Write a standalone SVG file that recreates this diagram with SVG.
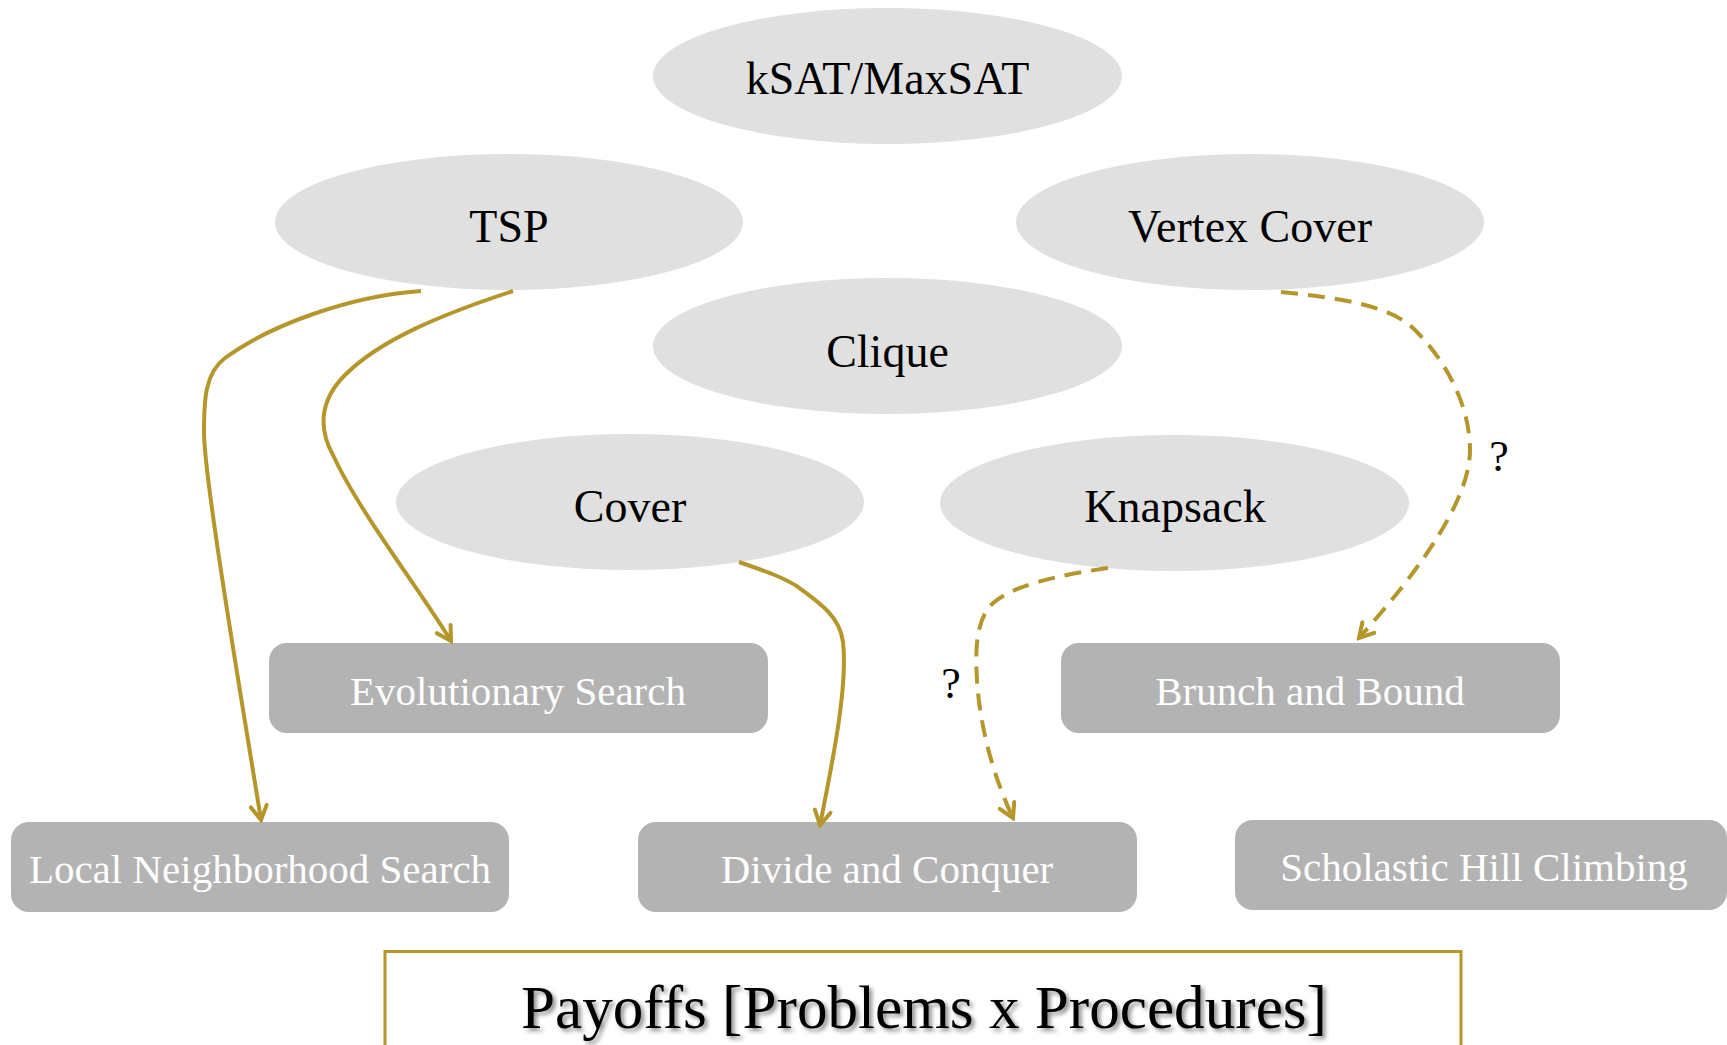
<svg xmlns="http://www.w3.org/2000/svg" width="1727" height="1045" viewBox="0 0 1727 1045">
  <style>
    .problem ellipse { fill: #e0e0e0; }
    .problem text { font-family: "Liberation Serif", "DejaVu Serif", serif; font-size: 46px; fill: #000; text-anchor: middle; }
    .procedure rect { fill: #b3b3b3; }
    .procedure text { font-family: "Liberation Serif", "DejaVu Serif", serif; font-size: 41px; fill: #ffffff; text-anchor: middle; }
    .link { fill: none; stroke: #b4962b; stroke-width: 4; marker-end: url(#arrow); }
    .dashed { stroke-dasharray: 17 10; }
    .qmark { font-family: "Liberation Serif", "DejaVu Serif", serif; font-size: 44px; fill: #000; text-anchor: middle; }
    .title-frame { fill: #fff; stroke: #b4962b; stroke-width: 3; }
    .title { font-family: "Liberation Serif", "DejaVu Serif", serif; font-size: 62px; fill: #000; text-anchor: middle; }
  </style>
  <defs>
    <marker id="arrow" markerUnits="userSpaceOnUse" viewBox="0 0 20 20" refX="17" refY="10" markerWidth="20" markerHeight="20" orient="auto">
      <path d="M3,2 L17,10 L3,18" fill="none" stroke="#b4962b" stroke-width="4" stroke-linecap="round" stroke-linejoin="miter"/>
    </marker>
    <filter id="shadow" x="-5%" y="-30%" width="110%" height="160%">
      <feDropShadow dx="3" dy="3" stdDeviation="2" flood-color="#000" flood-opacity="0.45"/>
    </filter>
  </defs>

  <rect width="1727" height="1045" fill="#ffffff"/>

  <!-- problems -->
  <g id="ksat" class="problem">
    <ellipse cx="887.5" cy="76" rx="234.5" ry="68"/>
    <text x="887.5" y="94">kSAT/MaxSAT</text>
  </g>
  <g id="tsp" class="problem">
    <ellipse cx="509" cy="222" rx="234" ry="68"/>
    <text x="509" y="242">TSP</text>
  </g>
  <g id="vertex-cover" class="problem">
    <ellipse cx="1250" cy="222" rx="234" ry="68"/>
    <text x="1250" y="242">Vertex Cover</text>
  </g>
  <g id="clique" class="problem">
    <ellipse cx="887.5" cy="346" rx="234.5" ry="68"/>
    <text x="887.5" y="367">Clique</text>
  </g>
  <g id="cover" class="problem">
    <ellipse cx="630" cy="502" rx="234" ry="68"/>
    <text x="630" y="522">Cover</text>
  </g>
  <g id="knapsack" class="problem">
    <ellipse cx="1174.5" cy="503" rx="234.5" ry="68"/>
    <text x="1175" y="522">Knapsack</text>
  </g>

  <!-- procedures -->
  <g id="evolutionary-search" class="procedure">
    <rect x="269" y="643" width="499" height="90" rx="18"/>
    <text x="518" y="705">Evolutionary Search</text>
  </g>
  <g id="branch-and-bound" class="procedure">
    <rect x="1061" y="643" width="499" height="90" rx="18"/>
    <text x="1310" y="705">Brunch and Bound</text>
  </g>
  <g id="local-neighborhood-search" class="procedure">
    <rect x="11" y="822" width="498" height="90" rx="18"/>
    <text x="260" y="883">Local Neighborhood Search</text>
  </g>
  <g id="divide-and-conquer" class="procedure">
    <rect x="638" y="822" width="499" height="90" rx="18"/>
    <text x="887" y="883">Divide and Conquer</text>
  </g>
  <g id="stochastic-hill-climbing" class="procedure">
    <rect x="1235" y="820" width="492" height="90" rx="18"/>
    <text x="1484" y="881">Scholastic Hill Climbing</text>
  </g>

  <!-- connectors -->
  <g id="connectors">
    <path class="link" d="M421,291 C350,296 270,325 225,358 C205,373 204,400 204,432 C204,480 245,720 261,820"/>
    <path class="link" d="M513,291 C440,315 380,340 345,375 C320,400 318,428 333,455 C358,510 420,590 451,641"/>
    <path class="link" d="M739,562 C765,571 785,578 798,587 C820,603 840,617 843,642 C848,685 833,760 820,825"/>
    <path class="link dashed" d="M1108,568 C1060,575 1012,585 992,604 C976,620 975,650 977,680 C980,730 995,780 1013,818"/>
    <path class="link dashed" d="M1281,292 C1340,298 1390,305 1415,330 C1450,365 1470,410 1470,450 C1470,500 1420,570 1359,638"/>
    <text class="qmark" x="951" y="698">?</text>
    <text class="qmark" x="1499" y="471">?</text>
  </g>

  <!-- caption -->
  <g id="caption">
    <rect class="title-frame" x="385" y="951.5" width="1076" height="110"/>
    <text class="title" x="924" y="1028" textLength="806" lengthAdjust="spacingAndGlyphs" filter="url(#shadow)">Payoffs [Problems x Procedures]</text>
  </g>
</svg>
